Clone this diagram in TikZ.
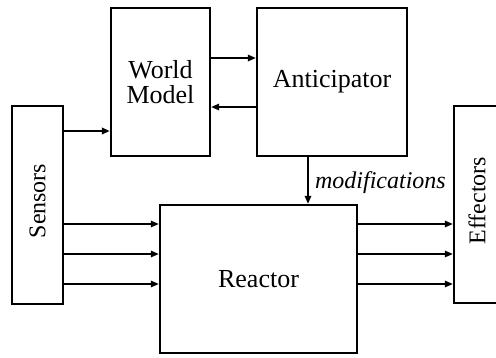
\documentclass[tikz,border=0pt]{standalone}
\usepackage{fontspec}
\setmainfont{Liberation Serif}
\usetikzlibrary{arrows.meta}
\begin{document}
\begin{tikzpicture}[x=1pt,y=-1pt,
  box/.style={draw,line width=2.4pt,inner sep=0pt},
  arr/.style={line width=1.6pt,-{Triangle[length=8pt,width=6.5pt]}},
  big/.style={font=\fontsize{26}{25}\selectfont,align=center},
  small/.style={font=\fontsize{24}{24}\selectfont}]
\useasboundingbox (0,0) rectangle (496,357);
\node[box,big,minimum width=99,minimum height=148] (wm) at (160.5,82) {World\\Model};
\node[box,big,minimum width=150,minimum height=148] (ant) at (332,82) {Anticipator};
\node[box,minimum width=51,minimum height=198,
  label={[small,yshift=4pt,rotate=90]center:Sensors}] (sen) at (37.5,205) {};
\node[box,minimum width=52,minimum height=197,
  label={[small,yshift=4pt,xshift=-3pt,rotate=90]center:Effectors}] (eff) at (480,204.5) {};
\node[box,big,minimum width=197,minimum height=148] (rea) at (258.5,279) {Reactor};
\coordinate (ya) at (0,58);
\coordinate (yb) at (0,107);
\coordinate (ys) at (0,131);
\coordinate (y1) at (0,224);
\coordinate (y2) at (0,254);
\coordinate (y3) at (0,284);
\coordinate (xm) at (308,0);
\draw[arr,line width=2.2pt] (sen.east |- ys) -- (wm.west |- ys);
\draw[arr] (wm.east |- ya) -- (ant.west |- ya);
\draw[arr] (ant.west |- yb) -- (wm.east |- yb);
\draw[arr] (ant.south -| xm) -- node[right,font=\fontsize{24}{24}\selectfont\itshape,xshift=3pt,yshift=-2pt] (mod) {modifications} (rea.north -| xm);
\foreach \y in {y1,y2,y3}{
  \draw[arr] (sen.east |- \y) -- (rea.west |- \y);
  \draw[arr] (rea.east |- \y) -- (eff.west |- \y);
}
\end{tikzpicture}
\end{document}
